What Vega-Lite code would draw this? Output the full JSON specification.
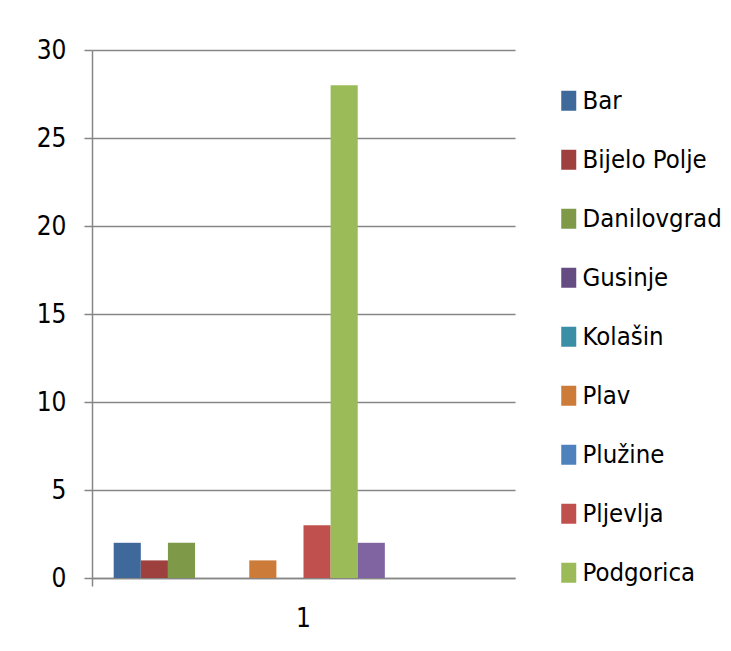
{
  "$schema": "https://vega.github.io/schema/vega-lite/v6.json",
  "autosize": {"type": "none"},
  "width": 423,
  "height": 528,
  "padding": {"left": 92, "top": 50, "right": 216, "bottom": 73},
  "background": "white",
  "data": {
    "values": [
      {"cat": "1", "grad": "Bar", "broj": 2},
      {"cat": "1", "grad": "Bijelo Polje", "broj": 1},
      {"cat": "1", "grad": "Danilovgrad", "broj": 2},
      {"cat": "1", "grad": "Gusinje", "broj": 0},
      {"cat": "1", "grad": "Kolašin", "broj": 0},
      {"cat": "1", "grad": "Plav", "broj": 1},
      {"cat": "1", "grad": "Plužine", "broj": 0},
      {"cat": "1", "grad": "Pljevlja", "broj": 3},
      {"cat": "1", "grad": "Podgorica", "broj": 28},
      {"cat": "1", "grad": "Rožaje", "broj": 2},
      {"cat": "1", "grad": "Šavnik", "broj": 0},
      {"cat": "1", "grad": "Tivat", "broj": 0},
      {"cat": "1", "grad": "Ulcinj", "broj": 0},
      {"cat": "1", "grad": "Žabljak", "broj": 0}
    ]
  },
  "mark": {"type": "bar"},
  "encoding": {
    "x": {
      "field": "cat", "type": "nominal",
      "scale": {"paddingInner": 0, "paddingOuter": 0},
      "axis": {
        "title": null, "labelAngle": 0, "domainColor": "#868686", "domainWidth": 1.5,
        "ticks": true, "bandPosition": 0, "tickColor": "#868686", "tickWidth": 1.5, "tickSize": 8,
        "labelFont": "DejaVu Sans Condensed, Liberation Sans, sans-serif", "labelFontSize": 26, "labelColor": "#000000",
        "labelPadding": 19, "labelBound": false
      }
    },
    "xOffset": {
      "field": "grad", "type": "nominal",
      "sort": ["Bar", "Bijelo Polje", "Danilovgrad", "Gusinje", "Kolašin", "Plav", "Plužine", "Pljevlja", "Podgorica", "Rožaje", "Šavnik", "Tivat", "Ulcinj", "Žabljak"],
      "scale": {"paddingInner": 0, "paddingOuter": 0.8}
    },
    "y": {
      "field": "broj", "type": "quantitative",
      "scale": {"domain": [0, 30], "nice": false},
      "axis": {
        "title": null, "values": [0, 5, 10, 15, 20, 25, 30],
        "domainColor": "#868686", "domainWidth": 1.5,
        "gridColor": "#868686", "gridWidth": 1.5,
        "tickColor": "#868686", "tickWidth": 1.5, "tickSize": 8,
        "labelFont": "DejaVu Sans Condensed, Liberation Sans, sans-serif", "labelFontSize": 26, "labelColor": "#000000",
        "labelPadding": 18
      }
    },
    "color": {
      "field": "grad", "type": "nominal",
      "scale": {
        "domain": ["Bar", "Bijelo Polje", "Danilovgrad", "Gusinje", "Kolašin", "Plav", "Plužine", "Pljevlja", "Podgorica", "Rožaje", "Šavnik", "Tivat", "Ulcinj", "Žabljak"],
        "range": ["#3F699B", "#9D403E", "#7E9A48", "#654C83", "#3A8EA5", "#CC7B38", "#4F81BD", "#C0504D", "#9BBB59", "#8064A2", "#4BACC6", "#F79646", "#2C4D75", "#772C2A"]
      },
      "legend": {
        "title": null,
        "values": ["Bar", "Bijelo Polje", "Danilovgrad", "Gusinje", "Kolašin", "Plav", "Plužine", "Pljevlja", "Podgorica"],
        "orient": "none", "legendX": 464, "legendY": 38,
        "symbolType": "M-0.75,-1V1H0.75V-1Z", "symbolSize": 400, "symbolStrokeWidth": 0, "symbolOpacity": 1,
        "labelFont": "DejaVu Sans Condensed, Liberation Sans, sans-serif", "labelFontSize": 25.5, "labelColor": "#000000",
        "labelOffset": 1, "rowPadding": 32, "padding": 0, "labelLimit": 300
      }
    }
  },
  "config": {"view": {"stroke": null}}
}
